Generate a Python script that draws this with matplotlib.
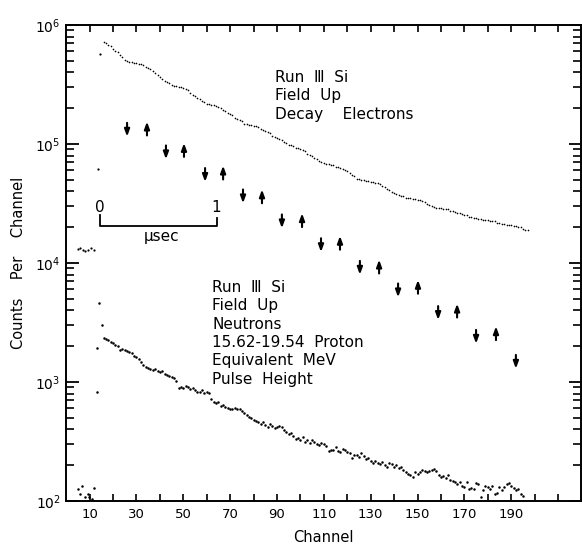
import numpy as np
from matplotlib import pyplot as plt

# Decay electrons: a few points before t0, then one value per channel (log10 counts)
elec_early_ch = [4.9, 5.9, 7.0, 8.0, 9.2, 10.6, 12.0, 13.7, 14.6]
elec_early_log = [4.12, 4.13, 4.11, 4.10, 4.11, 4.13, 4.11, 4.79, 5.76]

elec_ch = list(range(16, 198))
elec_log = [
    5.86, 5.85, 5.83, 5.82, 5.80, 5.78, 5.77, 5.75, 5.73, 5.71,   # 16-25
    5.70, 5.69, 5.69, 5.68, 5.68, 5.67, 5.67, 5.66, 5.65, 5.64,   # 26-35
    5.63, 5.61, 5.60, 5.58, 5.56, 5.55, 5.53, 5.52, 5.51, 5.50,   # 36-45
    5.49, 5.49, 5.48, 5.48, 5.47, 5.46, 5.45, 5.43, 5.41, 5.40,   # 46-55
    5.39, 5.38, 5.36, 5.35, 5.34, 5.34, 5.33, 5.33, 5.32, 5.31,   # 56-65
    5.30, 5.29, 5.28, 5.26, 5.25, 5.24, 5.22, 5.21, 5.20, 5.19,   # 66-75
    5.17, 5.17, 5.16, 5.16, 5.15, 5.15, 5.14, 5.13, 5.12, 5.11,   # 76-85
    5.10, 5.09, 5.07, 5.06, 5.05, 5.04, 5.03, 5.02, 5.01, 4.99,   # 86-95
    4.99, 4.98, 4.97, 4.97, 4.96, 4.95, 4.94, 4.92, 4.91, 4.90,   # 96-105
    4.88, 4.87, 4.86, 4.85, 4.84, 4.83, 4.83, 4.82, 4.82, 4.81,   # 106-115
    4.81, 4.80, 4.79, 4.78, 4.77, 4.76, 4.74, 4.73, 4.71, 4.71,   # 116-125
    4.70, 4.70, 4.69, 4.69, 4.68, 4.68, 4.67, 4.67, 4.66, 4.65,   # 126-135
    4.64, 4.62, 4.61, 4.60, 4.59, 4.58, 4.57, 4.56, 4.56, 4.55,   # 136-145
    4.55, 4.55, 4.54, 4.54, 4.53, 4.53, 4.52, 4.51, 4.50, 4.49,   # 146-155
    4.48, 4.47, 4.46, 4.46, 4.46, 4.45, 4.45, 4.45, 4.44, 4.44,   # 156-165
    4.43, 4.42, 4.42, 4.41, 4.40, 4.40, 4.39, 4.39, 4.38, 4.38,   # 166-175
    4.37, 4.37, 4.36, 4.36, 4.36, 4.35, 4.35, 4.35, 4.34, 4.34,   # 176-185
    4.33, 4.33, 4.32, 4.32, 4.32, 4.31, 4.31, 4.30, 4.30, 4.29,   # 186-195
    4.28, 4.28,                                                   # 196-197
]

# Neutrons
neut_early_ch = [4.9, 5.9, 6.6, 8.0, 9.2, 9.9, 11.0, 12.0, 13.0, 13.0, 14.1, 15.3]
neut_early_log = [2.10, 2.06, 2.13, 2.03, 2.06, 2.03, 2.02, 2.11, 2.92, 3.29, 3.66, 3.48]

neut_ch = list(range(16, 196))
neut_log = [
    3.37, 3.36, 3.35, 3.34, 3.33, 3.31, 3.30, 3.27, 3.28, 3.27,   # 16-25
    3.26, 3.25, 3.24, 3.22, 3.21, 3.19, 3.17, 3.14, 3.13, 3.12,   # 26-35
    3.11, 3.10, 3.11, 3.09, 3.08, 3.09, 3.07, 3.06, 3.05, 3.04,   # 36-45
    3.03, 3.01, 2.95, 2.96, 2.95, 2.97, 2.96, 2.94, 2.95, 2.93,   # 46-55
    2.92, 2.92, 2.93, 2.91, 2.92, 2.91, 2.86, 2.83, 2.82, 2.83,   # 56-65
    2.80, 2.81, 2.79, 2.78, 2.77, 2.77, 2.78, 2.77, 2.77, 2.76,   # 66-75
    2.74, 2.72, 2.71, 2.70, 2.68, 2.67, 2.66, 2.65, 2.66, 2.64,   # 76-85
    2.62, 2.65, 2.63, 2.61, 2.62, 2.63, 2.62, 2.60, 2.58, 2.56,   # 86-95
    2.57, 2.55, 2.52, 2.53, 2.51, 2.54, 2.50, 2.51, 2.49, 2.51,   # 96-105
    2.50, 2.48, 2.47, 2.49, 2.48, 2.46, 2.42, 2.43, 2.43, 2.45,   # 106-115
    2.42, 2.41, 2.44, 2.43, 2.41, 2.40, 2.36, 2.39, 2.39, 2.37,   # 116-125
    2.40, 2.38, 2.35, 2.36, 2.34, 2.32, 2.34, 2.32, 2.31, 2.33,   # 126-135
    2.30, 2.29, 2.32, 2.31, 2.29, 2.30, 2.28, 2.29, 2.26, 2.24,   # 136-145
    2.23, 2.22, 2.20, 2.24, 2.23, 2.24, 2.26, 2.25, 2.24, 2.25,   # 146-155
    2.26, 2.27, 2.25, 2.22, 2.20, 2.21, 2.19, 2.22, 2.18, 2.17,   # 156-165
    2.16, 2.14, 2.16, 2.13, 2.12, 2.16, 2.10, 2.11, 2.10, 2.15,   # 166-175
    2.14, 2.03, 2.09, 2.13, 2.12, 2.10, 2.13, 2.06, 2.07, 2.12,   # 176-185
    2.09, 2.12, 2.14, 2.15, 2.13, 2.11, 2.09, 2.10, 2.06, 2.04,   # 186-195
]

# spin direction markers
arrow_ch = [26.0, 34.5, 42.6, 50.3, 59.3, 67.0, 75.5, 83.6, 92.1, 100.7, 108.8,
            116.9, 125.4, 133.6, 141.7, 150.2, 158.8, 166.9, 175.0, 183.5, 192.0]
arrow_log = [5.12, 5.13, 4.93, 4.95, 4.74, 4.76, 4.56, 4.56, 4.35, 4.36, 4.15,
             4.17, 3.96, 3.97, 3.77, 3.80, 3.58, 3.60, 3.38, 3.41, 3.17]
arrow_dir = ['down', 'up', 'down', 'up', 'down', 'up', 'down', 'up', 'down', 'up', 'down',
             'up', 'down', 'up', 'down', 'up', 'down', 'up', 'down', 'up', 'down']

xtick_labels = [10, 30, 50, 70, 90, 110, 130, 150, 170, 190]

plt.rcParams['font.family'] = 'DejaVu Sans'
fig = plt.figure(figsize=(5.82, 5.45), dpi=100)
ax = fig.add_axes([0.1137, 0.0807, 0.8854, 0.8734])

ax.plot(elec_early_ch, 10 ** np.array(elec_early_log), 'o', ms=1.6, mew=0, color='k')
ax.plot(elec_ch, 10 ** np.array(elec_log), 'o', ms=1.2, mew=0, color='k')
ax.plot(neut_early_ch, 10 ** np.array(neut_early_log), 'o', ms=1.8, mew=0, color='k')
ax.plot(neut_ch, 10 ** np.array(neut_log), 'o', ms=1.8, mew=0, color='k')

half = 0.058
for c, v, d in zip(arrow_ch, arrow_log, arrow_dir):
    top = 10 ** (v + half)
    bot = 10 ** (v - half)
    if d == 'down':
        tip, tail = bot, top
    else:
        tip, tail = top, bot
    ax.annotate('', xy=(c, tip), xytext=(c, tail),
                arrowprops=dict(arrowstyle='-|>,head_length=0.6,head_width=0.22',
                                lw=1.5, color='k', shrinkA=0, shrinkB=0,
                                mutation_scale=7))

ax.set_yscale('log')
ax.set_xlim(0, 220)
ax.set_ylim(1e2, 1e6)

ax.set_xticks(np.arange(10, 220, 10))
ax.set_xticklabels([str(t) if t in xtick_labels else '' for t in range(10, 220, 10)])
ax.tick_params(axis='x', which='both', direction='in', top=True, length=5, width=1.2,
               labelsize=9.5, pad=5)
ax.tick_params(axis='y', which='major', direction='in', right=True, length=9, width=1.3,
               labelsize=10, pad=4)
ax.tick_params(axis='y', which='minor', direction='in', right=True, length=5.5, width=1.2)
for s in ax.spines.values():
    s.set_linewidth(1.4)

ax.set_xlabel('Channel', fontsize=10.5)
ax.xaxis.set_label_coords(0.5, -0.06)
ax.set_ylabel('Counts    Per    Channel', fontsize=10.5)
ax.yaxis.set_label_coords(-0.078, 0.5)

fs = 11
upper = ['Run  Ⅲ  Si', 'Field  Up', 'Decay    Electrons']
for i, line in enumerate(upper):
    ax.text(0.405, 0.890 - i * 0.0385, line, transform=ax.transAxes,
            fontsize=fs, va='center', ha='left')
lower = ['Run  Ⅲ  Si', 'Field  Up', 'Neutrons', '15.62-19.54  Proton',
         'Equivalent  MeV', 'Pulse  Height']
for i, line in enumerate(lower):
    ax.text(0.283, 0.4485 - i * 0.0385, line, transform=ax.transAxes,
            fontsize=fs, va='center', ha='left')

# 1 microsecond scale bar
ax.plot([0.0656, 0.0656, 0.2927, 0.2927], [0.601, 0.5777, 0.5777, 0.5945],
        transform=ax.transAxes, color='k', lw=1.3)
ax.text(0.0646, 0.6176, '0', transform=ax.transAxes, fontsize=fs, ha='center', va='center')
ax.text(0.2907, 0.6176, '1', transform=ax.transAxes, fontsize=fs, ha='center', va='center')
ax.text(0.186, 0.5567, 'μsec', transform=ax.transAxes, fontsize=fs, ha='center', va='center')

fig.savefig('out.png', dpi=100)
